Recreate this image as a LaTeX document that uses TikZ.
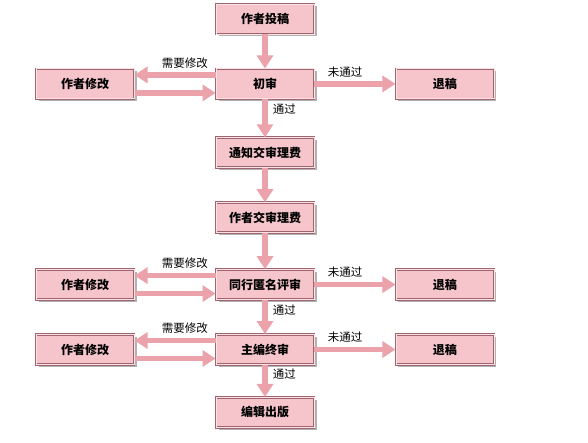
\documentclass[tikz,border=0pt]{standalone}
\usepackage{fontspec}
\newfontfamily\cjk{Noto Sans CJK SC}
\usetikzlibrary{arrows.meta, positioning, shadows}
\definecolor{boxfill}{HTML}{F5C5CB}
\definecolor{boxedge}{HTML}{9E6470}
\definecolor{arrowpink}{HTML}{EBA2AA}

\begin{document}
\begin{tikzpicture}[
    x=1pt, y=1pt,
    node distance=34pt and 81pt,
    every node/.style={font=\cjk\fontsize{11.5}{13}\selectfont},
    stage/.style={
        rectangle,
        draw=boxedge,
        line width=0.9pt,
        double=boxfill!50!white,
        double distance=0.8pt,
        fill=boxfill,
        minimum width=98pt,
        minimum height=30pt,
        inner sep=0pt,
        font=\cjk\bfseries\fontsize{12}{14}\selectfont,
        drop shadow={shadow xshift=2.5pt, shadow yshift=-2.5pt, fill=black!50, opacity=0.6}
    },
    flow/.style={line width=5.5pt, color=arrowpink, -{Triangle[width=16pt,length=13pt]}},
    lbl/.style={font=\cjk\fontsize{11.5}{13}\selectfont, text=black, inner sep=1pt}
]

\fill[white] (0,0) rectangle (588,-443);
\useasboundingbox (0,0) rectangle (588,-443);

\node[stage] (tougao) at (265,-19) {作者投稿};
\node[stage, below=of tougao] (chushen) {初审};
\node[stage, left=of chushen] (xiugai1) {作者修改};
\node[stage, right=of chushen] (tuigao1) {退稿};
\node[stage, below=38pt of chushen] (tongzhi) {通知交审理费};
\node[stage, below=of tongzhi] (jiaofei) {作者交审理费};
\node[stage, below=36pt of jiaofei] (pingshen) {同行匿名评审};
\node[stage, left=of pingshen] (xiugai2) {作者修改};
\node[stage, right=of pingshen] (tuigao2) {退稿};
\node[stage, below=of pingshen] (zhongshen) {主编终审};
\node[stage, left=of zhongshen] (xiugai3) {作者修改};
\node[stage, right=of zhongshen] (tuigao3) {退稿};
\node[stage, below=32pt of zhongshen] (chuban) {编辑出版};

% first review
\draw[flow] (tougao) -- (chushen);
\draw[flow] ([yshift=9pt]chushen.west) -- node[lbl, above=3pt, pos=0.38] {需要修改} ([yshift=9pt]xiugai1.east);
\draw[flow] ([yshift=-9pt]xiugai1.east) -- ([yshift=-9pt]chushen.west);
\draw[flow] (chushen) -- node[lbl, above=3pt, pos=0.38] {未通过} (tuigao1);
\draw[flow] (chushen) -- node[lbl, right=4pt, pos=0.25] {通过} (tongzhi);

\draw[flow] (tongzhi) -- (jiaofei);
\draw[flow] (jiaofei) -- (pingshen);

% peer review
\draw[flow] ([yshift=9pt]pingshen.west) -- node[lbl, above=3pt, pos=0.38] {需要修改} ([yshift=9pt]xiugai2.east);
\draw[flow] ([yshift=-9pt]xiugai2.east) -- ([yshift=-9pt]pingshen.west);
\draw[flow] (pingshen) -- node[lbl, above=3pt, pos=0.38] {未通过} (tuigao2);
\draw[flow] (pingshen) -- node[lbl, right=4pt, pos=0.3] {通过} (zhongshen);

% final review
\draw[flow] ([yshift=9pt]zhongshen.west) -- node[lbl, above=3pt, pos=0.38] {需要修改} ([yshift=9pt]xiugai3.east);
\draw[flow] ([yshift=-9pt]xiugai3.east) -- ([yshift=-9pt]zhongshen.west);
\draw[flow] (zhongshen) -- node[lbl, above=3pt, pos=0.38] {未通过} (tuigao3);
\draw[flow] (zhongshen) -- node[lbl, right=4pt, pos=0.3] {通过} (chuban);

\end{tikzpicture}
\end{document}
